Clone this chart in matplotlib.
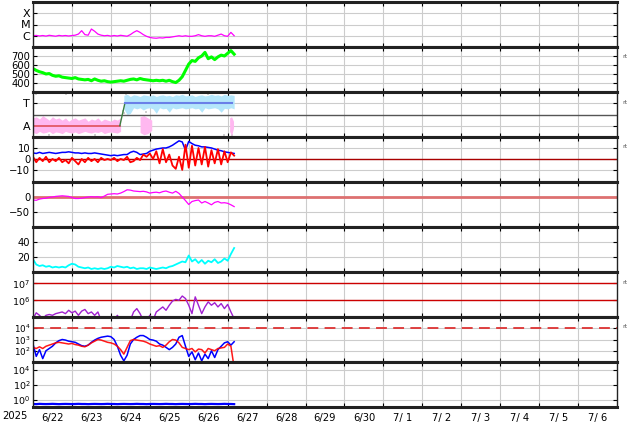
import numpy as np
import matplotlib
matplotlib.use("Agg")
import matplotlib.pyplot as plt

# time axis: days since 6/22 00:00, one sample every 2 hours
t = np.arange(63) / 12.0

day_labels = ['6/22', '6/23', '6/24', '6/25', '6/26', '6/27', '6/28', '6/29',
              '6/30', '7/ 1', '7/ 2', '7/ 3', '7/ 4', '7/ 5', '7/ 6']

# panel 1: x-ray flux (log10 W/m2)
xray_log = [-6.0, -5.97, -6.02, -5.98, -6.03, -5.96, -6.0, -6.04, -5.97, -6.01,
            -5.98, -6.02, -5.98, -5.95, -5.85, -5.55, -5.9, -5.95, -5.4, -5.6,
            -5.85, -5.95, -6.0, -5.97, -6.03, -5.98, -6.02, -5.96, -6.0, -6.04,
            -5.9, -5.7, -5.55, -5.7, -5.9, -6.05, -6.15, -6.2, -6.22, -6.18,
            -6.2, -6.15, -6.15, -6.1, -6.05, -6.0, -6.05, -6.0, -6.05, -6.05,
            -6.0, -5.9, -6.0, -6.05, -6.0, -6.0, -6.05, -5.95, -5.85, -6.0,
            -6.05, -5.7, -6.0]
xray_ticks = [1e-6, 1e-5, 1e-4]
xray_names = ['C', 'M', 'X']

# panel 2: solar wind speed (km/s)
speed = [560, 540, 525, 515, 500, 505, 485, 475, 480, 465, 460, 455, 450, 460,
         445, 440, 435, 440, 425, 445, 430, 420, 425, 415, 410, 415, 420, 425,
         420, 430, 440, 445, 435, 450, 440, 435, 430, 425, 430, 425, 430, 420,
         430, 415, 405, 430, 470, 540, 610, 650, 640, 680, 700, 740, 670, 690,
         660, 690, 710, 700, 730, 760, 720]

# panel 3: IMF sector (T = +1, A = -1)
sector_t = [0.0, 2.23, 2.36, 5.12]
sector_v = [-1, -1, 1, 1]
away_hi = [-0.3, -0.2, -0.4, -0.1, -0.3, -0.5, -0.2, -0.4, -0.3, -0.5, -0.3,
           -0.6, -0.4, -0.3, -0.5, -0.4, -0.3, -0.6, -0.4, -0.5, -0.3, -0.6,
           -0.4, -0.5, -0.6, -0.4, -0.5, -0.3]
away_lo = [-1.6, -1.7, -1.5, -1.65, -1.6, -1.5, -1.7, -1.55, -1.6, -1.7, -1.5,
           -1.6, -1.65, -1.55, -1.7, -1.6, -1.5, -1.6, -1.65, -1.55, -1.6, -1.5,
           -1.7, -1.6, -1.55, -1.6, -1.65, -1.5]
toward_hi = [1.7, 1.8, 1.6, 1.75, 1.7, 1.6, 1.75, 1.7, 1.65, 1.75, 1.6, 1.7,
             1.75, 1.65, 1.7, 1.6, 1.75, 1.7, 1.8, 1.65, 1.7, 1.75, 1.6, 1.7,
             1.75, 1.65, 1.7, 1.8, 1.7, 1.75, 1.65, 1.8, 1.7, 1.75, 1.7]
toward_lo = [0.5, 0.0, 0.1, 0.6, 0.5, 0.6, 0.4, 0.55, 0.6, 0.5, 0.1, 0.6, 0.5,
             0.55, 0.2, 0.6, 0.5, 0.55, 0.6, 0.5, 0.55, 0.6, 0.5, 0.55, 0.2,
             0.6, 0.5, 0.55, 0.6, 0.5, 0.2, 0.55, 0.5, 0.6, 0.5]
away2_t = [2.75, 2.85, 2.95, 3.05]
away2_hi = [-0.2, -0.1, -0.3, -0.5]
away2_lo = [-1.6, -1.8, -1.7, -1.4]
away3_t = [5.05, 5.1, 5.15]
away3_hi = [-0.3, -0.2, -0.6]
away3_lo = [-1.5, -1.9, -1.2]
gray_t = [0.08, 0.4, 0.85, 1.6, 2.3, 2.33, 2.4, 2.9, 3.6, 4.5, 4.9, 5.0, 5.1]
gray_v = [1.85, -1.85, 1.85, -1.8, 0.3, 0.1, 1.85, 0.2, 1.9, 1.85, -1.85, 1.9, -1.8]

# panel 4: IMF Bt and Bz (nT)
bz = [2, -3, 1, -2, 2, -3, 0, -2, 1, -3, -1, -4, 1, -2, -5, 0, -3, 1, -2, 0, -3,
      1, -1, 0, -1, 1, -2, 0, -1, 2, -3, -2, 1, -1, 4, 2, 5, 0, 7, -4, 9, -3, 4,
      -6, -9, 2, -10, 13, -8, 12, -6, 10, -5, 11, -7, 8, -4, 9, -5, 7, -3, 6, 3]
bt = [5.5, 5, 6, 5, 5.5, 6, 5.5, 5, 5.5, 6, 6, 6.5, 6, 5.5, 5.5, 5, 5.5, 5, 5,
      5.5, 5, 4.5, 4, 3.5, 3, 3.5, 3, 3.5, 4, 4, 6, 7, 6, 4, 4.5, 5, 7, 8, 9, 9.5,
      10, 10, 11, 12.5, 14.5, 16.5, 15.5, 8, 16, 14, 12.5, 12, 11, 11, 10.5, 10,
      9, 8, 7.5, 6.5, 6, 5.5, 5]

# panel 5: Dst (nT)
dst = [-10, -11, -7, -5, -4, -1, 0, 2, 3, 4, 3, 2, -2, -5, -5, -4, -2, 0, 1, 0,
       1, -2, 3, 9, 10, 11, 10, 13, 18, 24, 23, 20, 19, 18, 19, 17, 13, 15, 16,
       14, 18, 20, 16, 13, 19, 12, 0, -12, -25, -15, -12, -10, -20, -15, -20,
       -26, -18, -15, -20, -19, -21, -26, -32]

# panel 6: solar wind density (/cc)
density = [17, 10, 8, 9, 7, 8, 6, 7, 6, 7, 6, 9, 11, 10, 7, 6, 5, 6, 4, 5, 4, 5,
           4, 5, 7, 6, 8, 7, 6, 7, 5, 6, 4, 5, 5, 4, 6, 5, 4, 5, 6, 5, 7, 8, 10,
           12, 14, 13, 22, 14, 17, 12, 16, 11, 15, 13, 17, 12, 14, 18, 15, 24, 32]

# panel 7: electron flux (log10)
elec_log = [4.9, 5.25, 5.1, 4.9, 5.1, 5.15, 5.1, 5.2, 5.25, 5.3, 5.2, 5.4, 5.25,
            5.35, 5.1, 5.35, 5.45, 5.2, 5.3, 5.1, 5.3, 4.8, 4.8, 4.8, 4.8, 4.8,
            5.1, 4.8, 4.8, 4.8, 4.8, 5.3, 5.5, 5.2, 4.8, 4.8, 5.1, 4.8, 5.3, 5.45,
            5.6, 5.4, 5.7, 5.95, 6.05, 6.0, 6.25, 6.1, 5.7, 5.2, 6.2, 5.7, 5.2,
            5.6, 5.9, 5.7, 5.85, 5.6, 5.8, 5.5, 5.75, 5.3, 4.9]
elec_ticks = [1e6, 1e7]

# panel 8: particle flux, two channels (log10)
flux_blue = [2.6, 1.5, 2.1, 1.3, 2.0, 2.2, 2.4, 2.7, 2.9, 3.0, 2.95, 2.85, 2.8,
             2.75, 2.6, 2.45, 2.4, 2.5, 2.75, 2.95, 3.1, 3.2, 3.25, 3.3, 3.25,
             3.0, 2.4, 1.6, 1.1, 1.6, 2.6, 3.0, 3.2, 3.35, 3.35, 3.2, 3.0, 2.95,
             2.85, 2.6, 2.5, 2.3, 2.1, 2.3, 2.6, 3.2, 3.35, 2.4, 1.5, 1.9, 1.2,
             1.8, 1.1, 1.7, 1.3, 2.0, 1.4, 2.1, 2.4, 2.7, 2.8, 2.5, 2.8]
flux_red = [2.3, 2.2, 2.35, 2.2, 2.4, 2.5, 2.6, 2.7, 2.75, 2.7, 2.65, 2.6, 2.65,
            2.55, 2.5, 2.4, 2.35, 2.5, 2.7, 2.85, 3.0, 2.95, 2.85, 2.75, 2.7,
            2.6, 2.4, 2.1, 1.7, 2.3, 2.9, 3.0, 2.95, 2.9, 2.85, 2.75, 2.6, 2.5,
            2.4, 2.45, 2.3, 2.5, 2.8, 3.0, 2.95, 2.7, 2.3, 2.2, 2.1, 2.2, 1.9,
            2.15, 2.1, 1.8, 2.2, 2.1, 2.0, 2.2, 2.25, 2.3, 2.6, 2.4, 0.5]
flux_ticks = [1e2, 1e3, 1e4]

# panel 9: bottom channel (log10)
low_log = [-0.6, -0.62, -0.58, -0.6, -0.61, -0.6, -0.58, -0.6, -0.62, -0.6,
           -0.59, -0.6, -0.61, -0.6, -0.58, -0.6, -0.6, -0.62, -0.6, -0.59,
           -0.6, -0.61, -0.6, -0.58, -0.6, -0.6, -0.62, -0.6, -0.59, -0.6,
           -0.61, -0.6, -0.58, -0.6, -0.6, -0.62, -0.6, -0.59, -0.6, -0.61,
           -0.6, -0.58, -0.6, -0.6, -0.62, -0.6, -0.59, -0.6, -0.61, -0.6,
           -0.58, -0.6, -0.6, -0.62, -0.6, -0.59, -0.6, -0.61, -0.6, -0.58,
           -0.6, -0.6, -0.62]
low_ticks = [1e0, 1e2, 1e4]

plt.rcParams['font.family'] = ['DejaVu Sans']
fig = plt.figure(figsize=(6.34, 4.24), dpi=100)

W, H = 634.0, 424.0
axes = []
for i in range(9):
    y_top = 2 + 45 * i
    ax = fig.add_axes([33 / W, 1 - (y_top + 45) / H, 584 / W, 45 / H])
    axes.append(ax)

grid_c = '#cccccc'
for ax in axes:
    ax.set_xlim(0, 15)
    ax.set_xticks(np.arange(1, 15))
    ax.xaxis.grid(True, color=grid_c, lw=0.8)
    ax.yaxis.grid(True, color=grid_c, lw=0.8)
    ax.set_axisbelow(True)
    ax.tick_params(axis='x', direction='in', length=3, top=True, labelbottom=False)
    ax.tick_params(axis='y', direction='in', length=3, right=True, labelsize=7.2, pad=2)
    for s in ['top', 'bottom']:
        ax.spines[s].set_linewidth(2.2)
        ax.spines[s].set_color('#222222')
    for s in ['left', 'right']:
        ax.spines[s].set_linewidth(1.0)
        ax.spines[s].set_color('#222222')

# 1 x-ray
ax = axes[0]
ax.set_yscale('log')
ax.set_ylim(1e-7, 1e-3)
ax.plot(t, 10 ** np.array(xray_log), color='#ff00ff', lw=0.9)
ax.set_yticks(xray_ticks)
ax.set_yticklabels(xray_names, fontsize=8)
ax.yaxis.set_minor_locator(matplotlib.ticker.NullLocator())

# 2 speed
ax = axes[1]
ax.set_ylim(300, 800)
ax.set_yticks([400, 500, 600, 700])
ax.plot(t, speed, color='#00ff00', lw=2.2)

# 3 sector
ax = axes[2]
ax.set_ylim(-2, 2)
ax.set_yticks([-1, 1])
ax.set_yticklabels(['A', 'T'], fontsize=8)
ax.axhline(0, color='#555555', lw=1.0)
ax.scatter(gray_t, gray_v, s=4, color='#cfcfcf', marker='s', lw=0)
ax.fill_between(t[:28], away_lo, away_hi, color='#ffb8f0', lw=0)
ax.fill_between(t[28:], toward_lo, toward_hi, color='#b4e6fb', lw=0)
ax.fill_between(away2_t, away2_lo, away2_hi, color='#ffb8f0', lw=0)
ax.fill_between(away3_t, away3_lo, away3_hi, color='#ffb8f0', lw=0)
ax.plot(sector_t[:2], sector_v[:2], color='#e0505a', lw=1.2)
ax.plot(sector_t[1:3], sector_v[1:3], color='#3c8040', lw=1.0)
ax.plot(sector_t[2:], sector_v[2:], color='#6a80e8', lw=1.5)

# 4 IMF
ax = axes[3]
ax.set_ylim(-21, 20)
ax.set_yticks([-10, 0, 10])
ax.set_yticklabels(['\u221210', '0', '10'])
ax.axhline(0, color='#aa0000', lw=1.0)
ax.plot(t, bt, color='#0000ff', lw=1.1)
ax.plot(t, bz, color='#ff0000', lw=1.3)

# 5 Dst
ax = axes[4]
ax.set_ylim(-100, 50)
ax.set_yticks([-50, 0])
ax.set_yticklabels(['\u221250', '0'])
ax.axhline(0, color='#dd7070', lw=2.0)
ax.plot(t, dst, color='#ff00ff', lw=0.9)

# 6 density
ax = axes[5]
ax.set_ylim(0, 60)
ax.set_yticks([20, 40])
ax.plot(t, density, color='#00ffff', lw=1.3)

# 7 electrons
ax = axes[6]
ax.set_yscale('log')
ax.set_ylim(1e5, 10 ** 7.68)
ax.set_yticks(elec_ticks)
ax.set_yticklabels(['$10^{6}$', '$10^{7}$'], fontsize=6.8)
ax.yaxis.set_minor_locator(matplotlib.ticker.NullLocator())
for v in elec_ticks:
    ax.axhline(v, color='#cc0000', lw=1.0)
ax.plot(t, 10 ** np.array(elec_log), color='#a020d0', lw=1.0)

# 8 particle flux
ax = axes[7]
ax.set_yscale('log')
ax.set_ylim(1e1, 1e5)
ax.set_yticks(flux_ticks)
ax.set_yticklabels(['$10^{2}$', '$10^{3}$', '$10^{4}$'], fontsize=6.3)
ax.yaxis.set_minor_locator(matplotlib.ticker.NullLocator())
ax.axhline(1e4, color='#dd3333', lw=1.3, ls=(0, (6, 3.5)))
ax.plot(t, 10 ** np.array(flux_blue), color='#0000ff', lw=1.1)
ax.plot(t, 10 ** np.array(flux_red), color='#ff0000', lw=1.1, alpha=0.9)

# 9 low channel
ax = axes[8]
ax.set_yscale('log')
ax.set_ylim(1e-1, 1e5)
ax.set_yticks(low_ticks)
ax.set_yticklabels(['$10^{0}$', '$10^{2}$', '$10^{4}$'], fontsize=6.8)
ax.yaxis.set_minor_locator(matplotlib.ticker.NullLocator())
ax.plot(t, 10 ** np.array(low_log), color='#0000ff', lw=1.6)
ax.set_xticks(np.arange(15) + 0.5, minor=True)
ax.set_xticklabels(day_labels, minor=True, fontsize=7.2)
ax.tick_params(axis='x', which='minor', length=0, labelbottom=True, pad=4)

fig.text(15 / W, 1 - 416 / H, '2025', fontsize=7.2, ha='center', va='center')

# "rt" markers on the right
for i in [1, 2, 3, 6, 7]:
    fig.text(622 / W, 1 - (2 + 45 * i + 10) / H, 'rt', fontsize=4.5, color='#555555',
             ha='left', va='center')

fig.savefig('out.png', dpi=100)
